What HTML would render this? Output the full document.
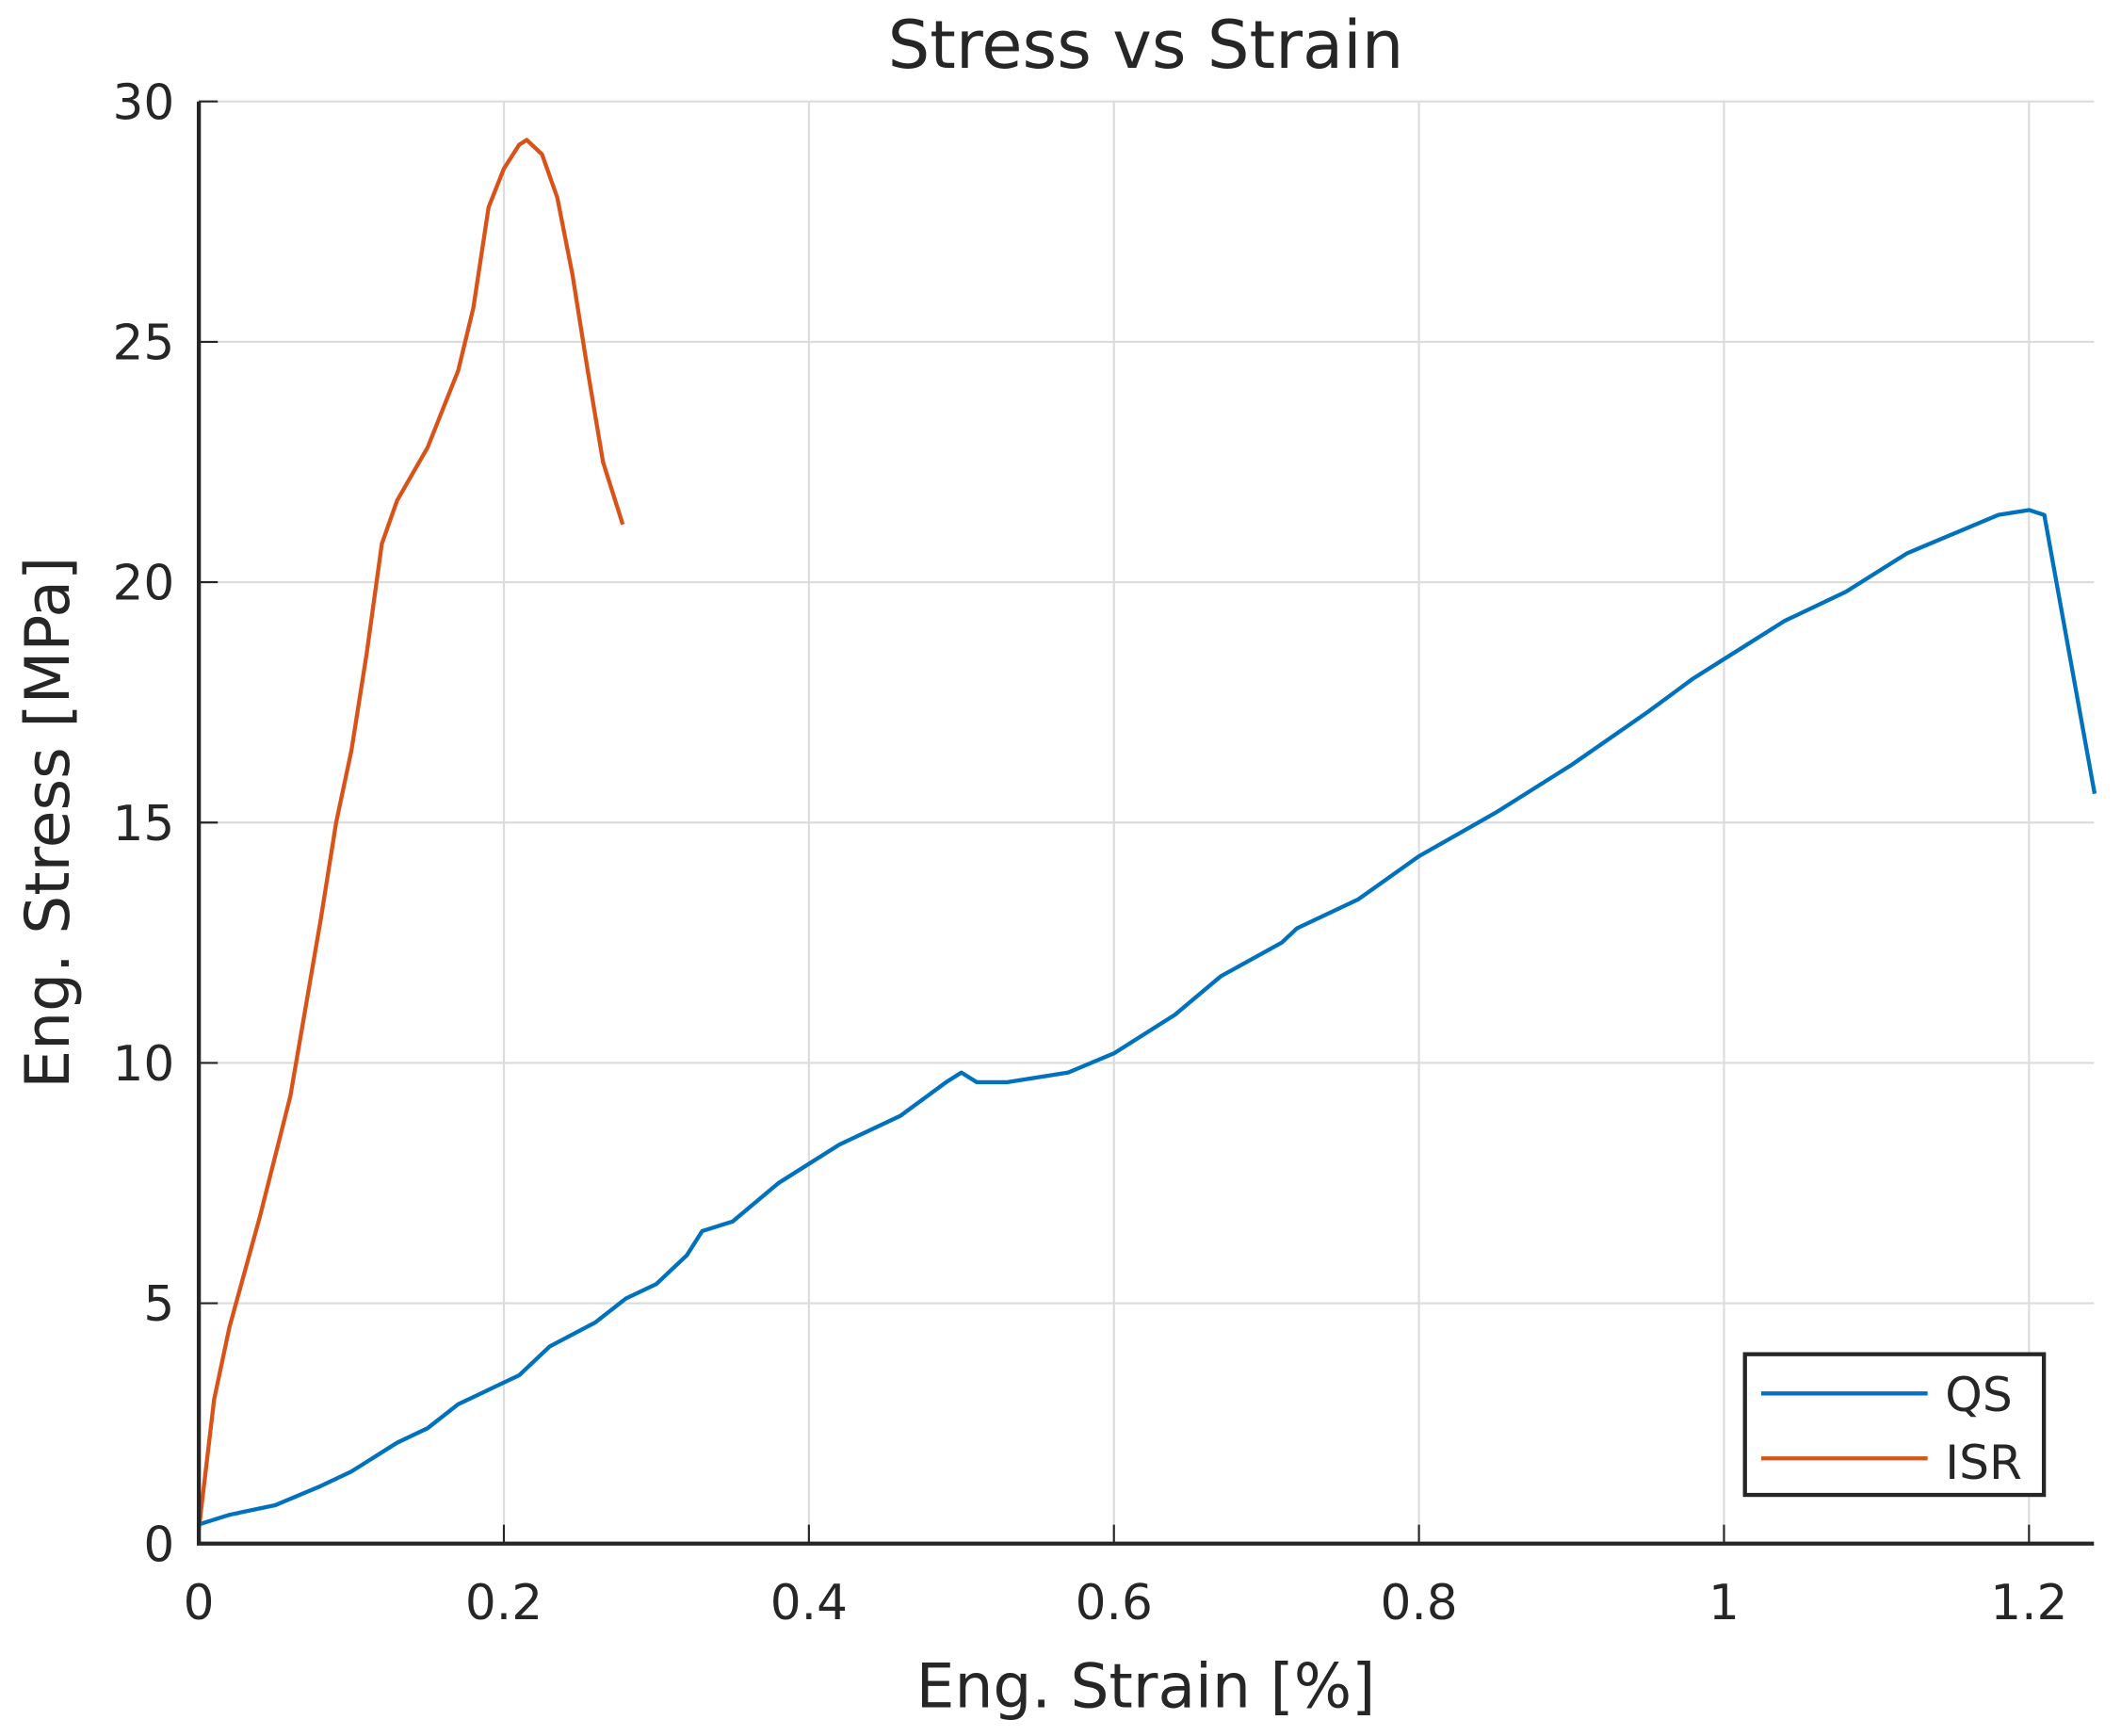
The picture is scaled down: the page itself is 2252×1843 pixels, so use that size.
<!DOCTYPE html>
<html><head><meta charset="utf-8"><style>
html,body{margin:0;padding:0;background:#fff;}
svg{display:block;}
text{font-family:"DejaVu Sans","Liberation Sans",sans-serif;fill:#262626;}
</style></head><body>
<svg id="chart" width="2252" height="1843" viewBox="0 0 1568 1283.2" preserveAspectRatio="none" xmlns="http://www.w3.org/2000/svg">
<rect width="1568" height="1284" fill="#fff"/>
<g id="grid"></g>
<g id="series"></g>
<g id="axes"></g>
<text x="847" y="50" font-size="49" text-anchor="middle">Stress vs Strain</text>
<text x="847" y="1262" font-size="45" text-anchor="middle">Eng. Strain [%]</text>
<text transform="translate(51,608) rotate(-90)" font-size="45" text-anchor="middle">Eng. Stress [MPa]</text>
<g>
<rect x="1290" y="1001" width="221" height="104" fill="#fff" stroke="#262626" stroke-width="3"/>
<line x1="1302" y1="1030" x2="1425" y2="1030" stroke="#0072BD" stroke-width="3"/>
<text x="1438" y="1043" font-size="35">QS</text>
<line x1="1302" y1="1078" x2="1425" y2="1078" stroke="#D95319" stroke-width="3"/>
<text x="1438" y="1093" font-size="35">ISR</text>
</g>
</svg>
<script>
const xTicks = [0, 0.2, 0.4, 0.6, 0.8, 1, 1.2];
const xTickLabels = ["0", "0.2", "0.4", "0.6", "0.8", "1", "1.2"];
const yTicks = [0, 5, 10, 15, 20, 25, 30];
const yTickLabels = ["0", "5", "10", "15", "20", "25", "30"];
const qsStrain = [0,0.02,0.05,0.08,0.1,0.13,0.15,0.17,0.19,0.21,0.23,0.26,0.28,0.3,0.32,0.33,0.35,0.38,0.42,0.46,0.49,0.5,0.51,0.53,0.57,0.6,0.64,0.67,0.71,0.72,0.76,0.8,0.85,0.9,0.95,0.98,1.0,1.04,1.08,1.12,1.15,1.18,1.2,1.21,1.243];
const qsStress = [0.4,0.6,0.8,1.2,1.5,2.1,2.4,2.9,3.2,3.5,4.1,4.6,5.1,5.4,6.0,6.5,6.7,7.5,8.3,8.9,9.6,9.8,9.6,9.6,9.8,10.2,11.0,11.8,12.5,12.8,13.4,14.3,15.2,16.2,17.3,18.0,18.4,19.2,19.8,20.6,21.0,21.4,21.5,21.4,15.6];
const isrStrain = [0,0.01,0.02,0.04,0.06,0.08,0.09,0.1,0.11,0.12,0.13,0.15,0.17,0.18,0.19,0.2,0.21,0.215,0.225,0.235,0.245,0.255,0.265,0.278];
const isrStress = [0.3,3.0,4.5,6.8,9.3,13.0,15.0,16.5,18.5,20.8,21.7,22.8,24.4,25.7,27.8,28.6,29.1,29.2,28.9,28.0,26.4,24.4,22.5,21.2];

const X0=147, X1=1548, Y0=1141, Y1=75;
const xMax = (X1-X0)/1127.5;
function xs(v){ return X0 + v/xMax*(X1-X0); }
function ys(v){ return Y0 - v/30*(Y0-Y1); }
const NS="http://www.w3.org/2000/svg";
function mk(tag, attrs, parent){
  const e=document.createElementNS(NS,tag);
  for(const k in attrs) e.setAttribute(k,attrs[k]);
  parent.appendChild(e); return e;
}
const grid=document.getElementById('grid'), axes=document.getElementById('axes'), series=document.getElementById('series');
xTicks.forEach((t,i)=>{
  const g=mk('line',{x1:xs(t),x2:xs(t),y1:Y1,y2:Y0,stroke:'#dcdcdc','stroke-width':1.5},grid);
  
  
  const tk=mk('line',{x1:xs(t),x2:xs(t),y1:Y0,y2:Y0-14,stroke:'#262626','stroke-width':1.5},axes);
  
  
  const tx=mk('text',{x:xs(t),y:1197,'font-size':36,'text-anchor':'middle'},axes);
  tx.textContent=xTickLabels[i];
  
  
});
yTicks.forEach((t,i)=>{
  const g=mk('line',{x1:X0,x2:X1,y1:ys(t),y2:ys(t),stroke:'#dcdcdc','stroke-width':1.5},grid);
  
  
  const tk=mk('line',{x1:X0,x2:X0+14,y1:ys(t),y2:ys(t),stroke:'#262626','stroke-width':1.5},axes);
  
  
  const tx=mk('text',{x:129,y:ys(t)+13,'font-size':36,'text-anchor':'end'},axes);
  tx.textContent=yTickLabels[i];
  
  
});
const ax=mk('path',{d:`M${X0},${Y1} L${X0},${Y0} L${X1},${Y0}`,fill:'none',stroke:'#262626','stroke-width':3},axes);


function line(xsArr, ysArr, color, name){
  const d=xsArr.map((v,i)=>(i?'L':'M')+xs(v).toFixed(1)+','+ys(ysArr[i]).toFixed(1)).join(' ');
  const p=mk('path',{d:d,fill:'none',stroke:color,'stroke-width':3,'stroke-linejoin':'round'},series);
  
  
}
line(qsStrain, qsStress, '#0072BD', 'qs-line');
line(isrStrain, isrStress, '#D95319', 'isr-line');
</script>
</body></html>
